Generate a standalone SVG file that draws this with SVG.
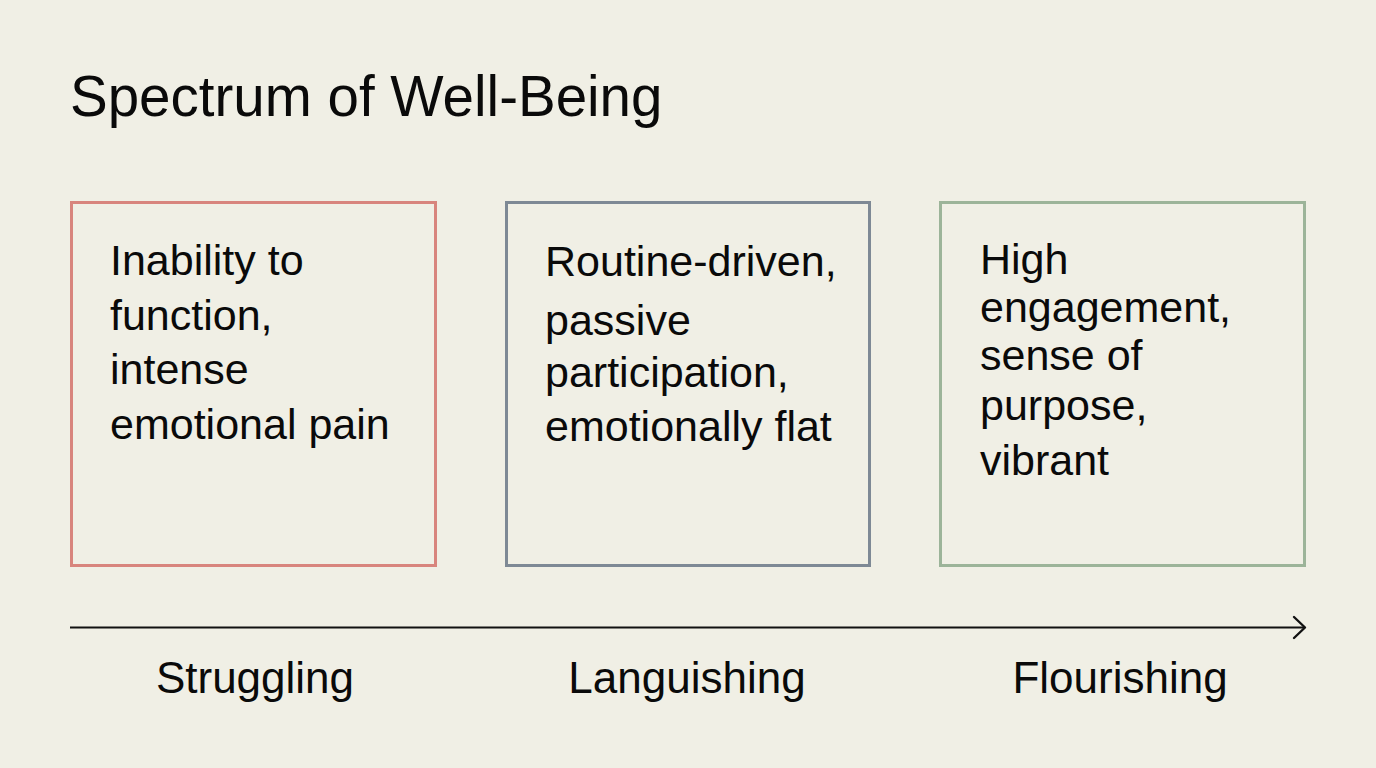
<svg xmlns="http://www.w3.org/2000/svg" width="1376" height="768" viewBox="0 0 1376 768">
<style>
.t{font-family:"Liberation Sans",Arial,sans-serif;fill:#0a0a0a;}
.title{font-size:56.5px;}
.body{font-size:43px;}
.lab{font-size:44px;text-anchor:middle;}
.box{fill:none;stroke-width:3;}
</style>
<rect width="1376" height="768" fill="#f0efe5"/>
<text class="t title" x="70" y="116">Spectrum of Well-Being</text>
<g id="struggling">
<rect class="box" x="71.5" y="202.5" width="364" height="363" stroke="#d8857d"/>
<text class="t body" x="110" y="275">Inability to</text>
<text class="t body" x="110" y="330">function,</text>
<text class="t body" x="110" y="384">intense</text>
<text class="t body" x="110" y="439">emotional pain</text>
<text class="t lab" x="255" y="693">Struggling</text>
</g>
<g id="languishing">
<rect class="box" x="506.5" y="202.5" width="363" height="363" stroke="#7e8995"/>
<text class="t body" x="545" y="276">Routine-driven,</text>
<text class="t body" x="545" y="335">passive</text>
<text class="t body" x="545" y="387">participation,</text>
<text class="t body" x="545" y="441">emotionally flat</text>
<text class="t lab" x="687" y="693">Languishing</text>
</g>
<g id="flourishing">
<rect class="box" x="940.5" y="202.5" width="364" height="363" stroke="#9cb499"/>
<text class="t body" x="980" y="274">High</text>
<text class="t body" x="980" y="322">engagement,</text>
<text class="t body" x="980" y="370">sense of</text>
<text class="t body" x="980" y="420">purpose,</text>
<text class="t body" x="980" y="475">vibrant</text>
<text class="t lab" x="1120" y="693">Flourishing</text>
</g>
<g id="connectors">
<line x1="70" y1="627.5" x2="1304" y2="627.5" stroke="#111" stroke-width="1.8"/>
<polyline points="1294,617 1305,627.5 1294,638" fill="none" stroke="#111" stroke-width="2.4" stroke-linecap="round" stroke-linejoin="round"/>
</g>
</svg>
